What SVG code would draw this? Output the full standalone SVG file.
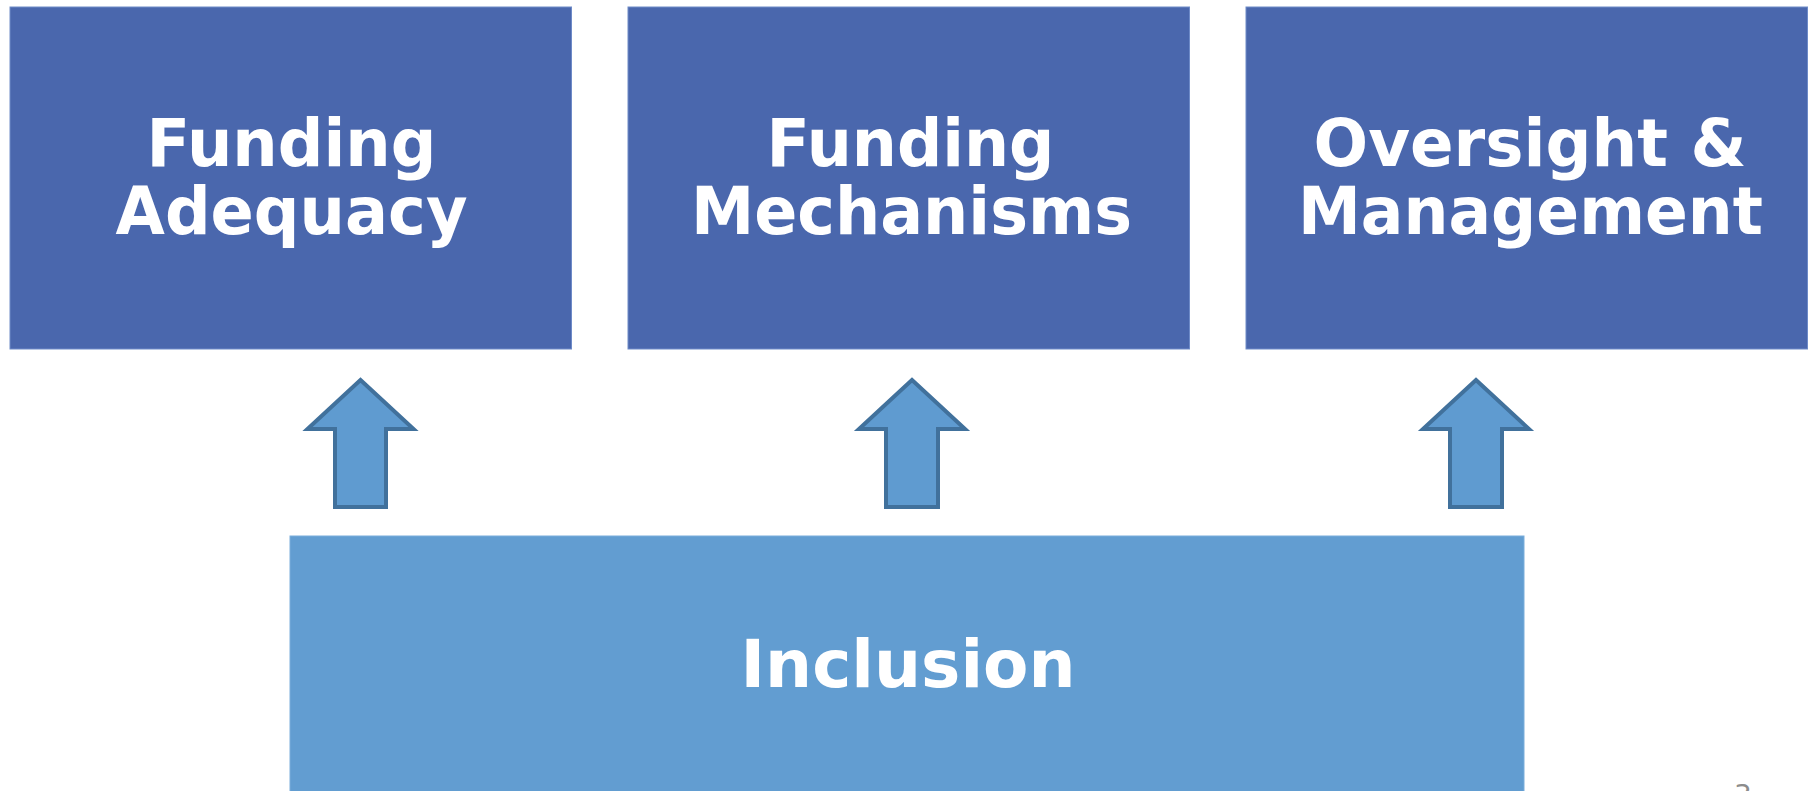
<svg xmlns="http://www.w3.org/2000/svg" width="1812" height="791" viewBox="0 0 1812 791">
<style>
.top{fill:#4A67AD;stroke:#6E8BC8;stroke-width:1}
.bottom{fill:#629DD1;stroke:#7BAEDB;stroke-width:1}
.lbl{font-family:"DejaVu Sans","Liberation Sans",sans-serif;font-weight:bold;font-size:66.7px;fill:#FFFFFF;text-anchor:middle}
.arrow{fill:#5F9BD0;stroke:#41719C;stroke-width:4;stroke-linejoin:miter}
.pg{font-family:"DejaVu Sans","Liberation Sans",sans-serif;font-size:28px;fill:#8C8C8C;text-anchor:middle}
</style>
<rect width="1812" height="791" fill="#FFFFFF"/>
<g id="node-funding-adequacy">
<rect class="top" x="10" y="7" width="561.5" height="342"/>
<text class="lbl" x="291.5" y="166" textLength="290" lengthAdjust="spacingAndGlyphs">Funding</text>
<text class="lbl" x="291.5" y="234" textLength="352" lengthAdjust="spacingAndGlyphs">Adequacy</text>
</g>
<g id="node-funding-mechanisms">
<rect class="top" x="628" y="7" width="561.5" height="342"/>
<text class="lbl" x="910.5" y="166" textLength="288" lengthAdjust="spacingAndGlyphs">Funding</text>
<text class="lbl" x="911.5" y="234" textLength="441" lengthAdjust="spacingAndGlyphs">Mechanisms</text>
</g>
<g id="node-oversight-management">
<rect class="top" x="1246" y="7" width="561.5" height="342"/>
<text class="lbl" x="1530" y="166" textLength="433" lengthAdjust="spacingAndGlyphs">Oversight &amp;</text>
<text class="lbl" x="1530.5" y="234" textLength="465" lengthAdjust="spacingAndGlyphs">Management</text>
</g>
<g id="node-inclusion">
<rect class="bottom" x="290" y="536" width="1234" height="260"/>
<text class="lbl" x="908" y="687" textLength="335" lengthAdjust="spacingAndGlyphs">Inclusion</text>
</g>
<g id="connectors">
<path class="arrow" d="M360.5 380 L413.5 429 L386 429 L386 507 L335 507 L335 429 L307.5 429 Z"/>
<path class="arrow" d="M912 380 L965 429 L938 429 L938 507 L886 507 L886 429 L859 429 Z"/>
<path class="arrow" d="M1476 380 L1529 429 L1502 429 L1502 507 L1450 507 L1450 429 L1423 429 Z"/>
</g>
<text class="pg" x="1743" y="805">3</text>
</svg>
